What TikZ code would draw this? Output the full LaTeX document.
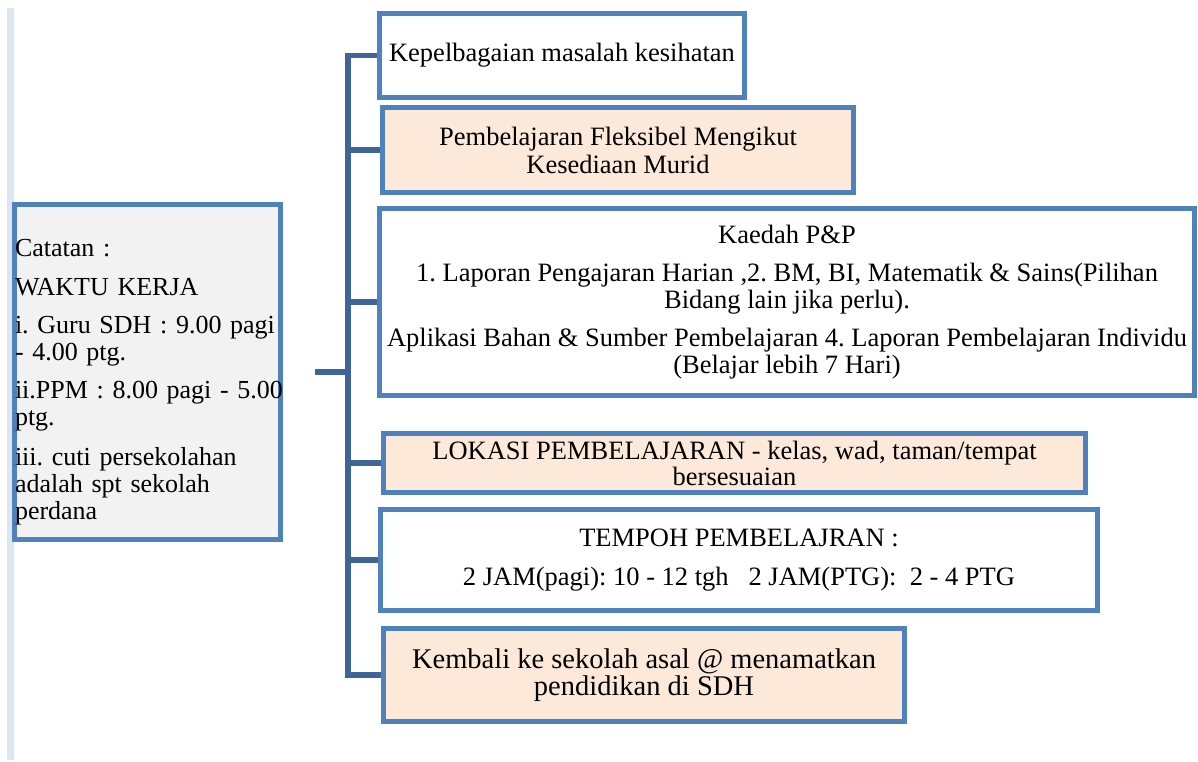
\documentclass[tikz,border=0pt]{standalone}
\usepackage{fontspec}
\setmainfont{Liberation Serif}
\definecolor{boxblue}{HTML}{4F81BD}
\definecolor{connblue}{HTML}{3F6597}
\definecolor{peach}{HTML}{FDE9D9}
\definecolor{notegray}{HTML}{F2F2F2}
\definecolor{barblue}{HTML}{DCE6F2}
\frenchspacing
\begin{document}
\begin{tikzpicture}[x=1pt,y=-1pt,
  box/.style={draw=boxblue, line width=5pt, inner sep=0pt, align=center,
              font=\fontsize{26.5}{27}\selectfont},
  whitebox/.style={box, fill=white},
  peachbox/.style={box, fill=peach},
  conn/.style={draw=connblue, line width=5.5pt, line join=miter}]
\useasboundingbox (0,0) rectangle (1198,761);

% page margin bar
\fill[barblue] (7,8) rectangle (14,760);

% note box on the left
\node[box, fill=notegray, minimum width=266pt, minimum height=335pt,
      text width=265pt, align=left, inner xsep=0.5pt,
      font=\fontsize{26}{27}\selectfont] (note) at (147.5,372)
  {\rule{0pt}{38pt}\mbox{Catatan :}\\[12pt]
   \mbox{WAKTU KERJA}\\[11pt]
   \mbox{i. Guru SDH : 9.00 pagi}\\
   \mbox{- 4.00 ptg.}\\[11pt]
   \mbox{ii.PPM : 8.00 pagi - 5.00}\\
   \mbox{ptg.}\\[13pt]
   \mbox{iii. cuti persekolahan}\\
   \mbox{adalah spt sekolah}\\
   \mbox{perdana}};

% branch boxes
\node[whitebox, minimum width=365pt, minimum height=84pt] (b1) at (562,55.5)
  {Kepelbagaian masalah kesihatan};
\node[peachbox, minimum width=471pt, minimum height=85pt] (b2) at (618,150)
  {Pembelajaran Fleksibel Mengikut\\[1pt] Kesediaan Murid};
\node[whitebox, minimum width=815pt, minimum height=187pt] (b3) at (787,302)
  {Kaedah P\&P\\[11pt]
   1. Laporan Pengajaran Harian ,2. BM, BI, Matematik \& Sains(Pilihan\\
   Bidang lain jika perlu).\\[11pt]
   Aplikasi Bahan \& Sumber Pembelajaran 4. Laporan Pembelajaran Individu\\
   (Belajar lebih 7 Hari)};
\node[peachbox, minimum width=702pt, minimum height=59pt] (b4) at (734.5,463)
  {LOKASI PEMBELAJARAN - kelas, wad, taman/tempat\\[-1pt] bersesuaian};
\node[whitebox, minimum width=717pt, minimum height=101pt] (b5) at (739,560)
  {TEMPOH PEMBELAJRAN :\\[12pt]
   2 JAM(pagi): 10 - 12 tgh\ \ \ 2 JAM(PTG):\ \ 2 - 4 PTG};
\node[peachbox, minimum width=521pt, minimum height=93pt,
      font=\fontsize{28.5}{27}\selectfont] (b6) at (644,675)
  {Kembali ke sekolah asal @ menamatkan\\ pendidikan di SDH};

% bracket connector
\coordinate (trunk) at (348,0);
\coordinate (stub) at (315,372);
\draw[conn] (b1.west) -- (b1.west -| trunk) -- (b6.west -| trunk) -- (b6.west);
\foreach \b in {b2,b3,b4,b5}
  \draw[conn] (\b.west -| trunk) -- (\b.west);
\draw[conn] (stub) -- (stub -| trunk);
\end{tikzpicture}
\end{document}
